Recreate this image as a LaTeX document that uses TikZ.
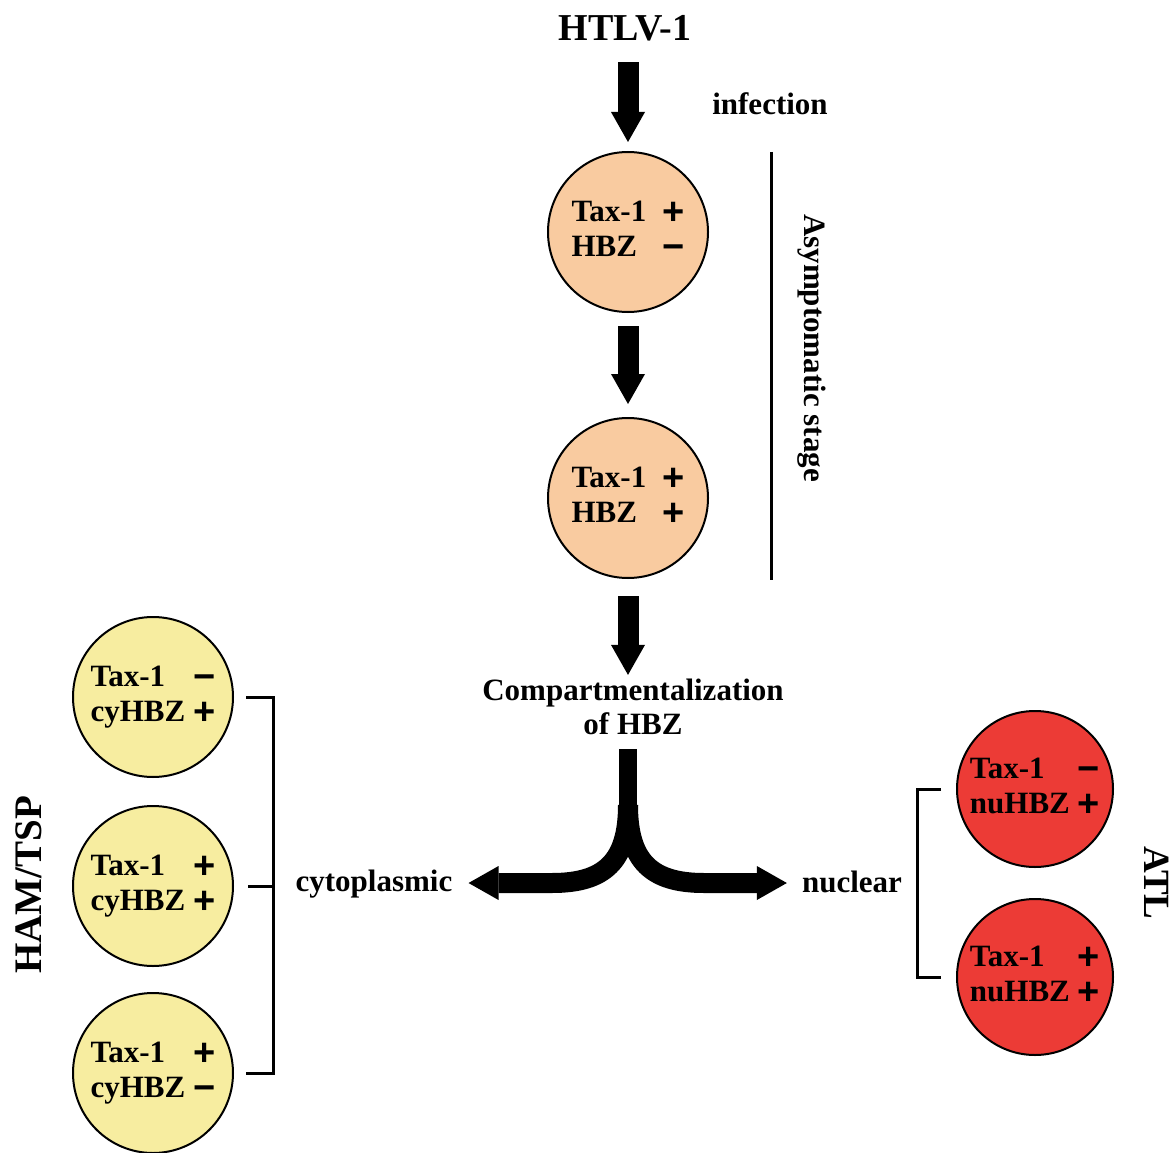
\documentclass[tikz,border=0pt]{standalone}
\usepackage{fontspec}
\setmainfont{Liberation Serif}
\newfontfamily\signfont{Liberation Sans}
\usepackage{xcolor}
\usetikzlibrary{positioning, arrows.meta, calc}

\definecolor{peach}{HTML}{F9CBA0}
\definecolor{paleyellow}{HTML}{F7EDA0}
\definecolor{cellred}{HTML}{EC3B36}

\newcommand{\signmark}[1]{\raisebox{-3pt}{\signfont\fontsize{38}{35}\selectfont #1}}
\newcommand{\cellrows}[5][8pt]{\begin{tabular}{@{}l@{\hspace{#1}}c@{}}#2 & \signmark{#3}\\ #4 & \signmark{#5}\end{tabular}}

\tikzset{
  cell/.style={circle, draw, line width=2pt, minimum size=160pt, inner sep=0pt},
  label/.style={font=\bfseries\fontsize{31}{34}\selectfont, inner sep=0pt},
  blockarrow/.style={line width=21pt, -{Triangle[length=30pt, width=34pt, line width=0pt]}},
  branch/.style={line width=20pt, -{Triangle[length=30pt, width=34pt, line width=0pt]}},
  bracket/.style={line width=3pt},
}

\begin{document}
\begin{tikzpicture}[x=1pt, y=-1pt, font=\bfseries\fontsize{31}{35}\selectfont]
\useasboundingbox (0,0) rectangle (1176,1153);

% Top: virus and asymptomatic stage
\node[label, font=\bfseries\fontsize{38}{40}\selectfont] (htlv) at (625, 28) {HTLV-1};
\node[label] (infection) at (770, 104) {infection};
\node[cell, fill=peach] (c1) at (628, 232) {\cellrows[16pt]{Tax-1}{+}{HBZ}{−}};
\node[cell, fill=peach] (c2) at (628, 498) {\cellrows[16pt]{Tax-1}{+}{HBZ}{+}};
\node[label, rotate=-90] (asym) at (812, 348) {Asymptomatic stage};
\draw[line width=3pt] (771, 152) -- (771, 580);

\draw[blockarrow, shorten <=21pt, shorten >=9pt] (htlv.south -| c1) -- (c1.north);
\draw[blockarrow, shorten <=13pt, shorten >=13pt] (c1.south) -- (c2.north);

% Middle: compartmentalization and split
\node[label, align=center] (comp) at (633, 707) {Compartmentalization\\of HBZ};
\draw[blockarrow, shorten <=17pt, shorten >=4pt] (c2.south) -- (c2.south |- comp.north);

\node[label] (cyto) at (374, 884) {cytoplasmic};
\node[label] (nuclear) at (852, 882) {nuclear};
\coordinate (fork) at (628, 805);
\draw[line width=18pt] ($(comp.south -| fork)+(0,14)$) -- (fork);
\draw[branch, shorten >=16pt] (fork) .. controls (628, 862) and (604, 883) .. (552, 883) -- (cyto.east |- 0,883);
\draw[branch, shorten >=15pt] (fork) .. controls (628, 862) and (652, 883) .. (704, 883) -- (nuclear.west |- 0,883);

% Left: HAM/TSP cells
\node[cell, fill=paleyellow] (l1) at (153, 697) {\cellrows{Tax-1}{−}{cyHBZ}{+}};
\node[cell, fill=paleyellow] (l2) at (153, 886) {\cellrows{Tax-1}{+}{cyHBZ}{+}};
\node[cell, fill=paleyellow] (l3) at (153, 1073) {\cellrows{Tax-1}{+}{cyHBZ}{−}};
\draw[bracket] ($(l1.east)+(12,0)$) -- ++(27,0) |- ($(l3.east)+(12,0)$);
\draw[bracket] ($(l2.east)+(14,0)$) -- ++(25,0);
\node[label, rotate=90, font=\bfseries\fontsize{39}{40}\selectfont] (ham) at (29, 885) {HAM/TSP};

% Right: ATL cells
\node[cell, fill=cellred, minimum size=156pt] (r1) at (1035, 789) {\cellrows{Tax-1}{−}{nuHBZ}{+}};
\node[cell, fill=cellred, minimum size=156pt] (r2) at (1035, 977) {\cellrows{Tax-1}{+}{nuHBZ}{+}};
\draw[bracket] ($(r1.west)+(-15,0)$) -- ++(-24,0) |- ($(r2.west)+(-15,0)$);
\node[label, rotate=-90, font=\bfseries\fontsize{37}{40}\selectfont] (atl) at (1157, 883) {ATL};

\end{tikzpicture}
\end{document}
